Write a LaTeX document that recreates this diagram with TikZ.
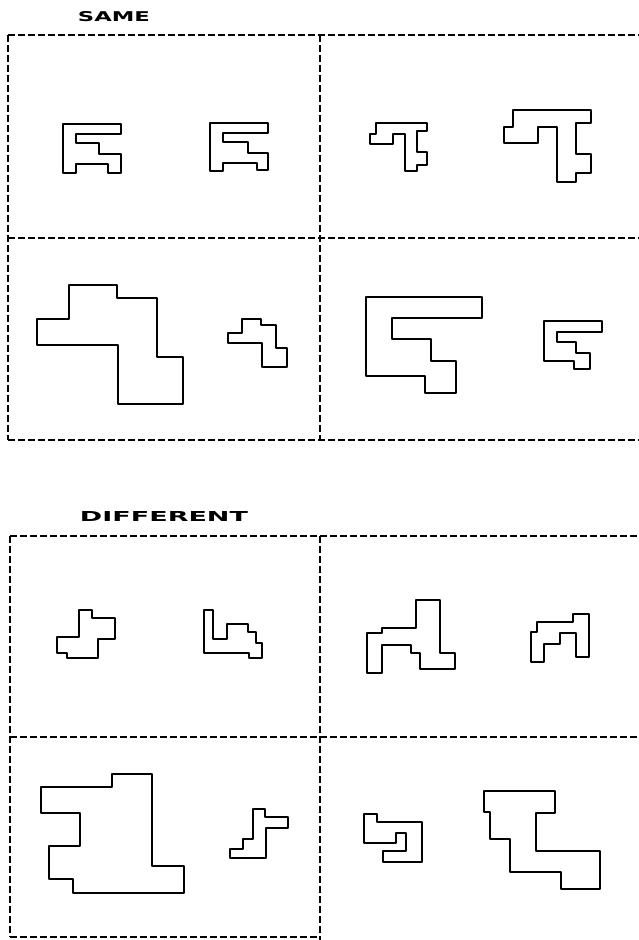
\documentclass[tikz,border=0pt]{standalone}
\usepackage{graphicx}
\usepackage{fontspec}
\newfontfamily\boardfont{DejaVu Sans}
\usepackage{tikz}

\begin{document}
\begin{tikzpicture}[x=1pt, y=-1pt,
    frame/.style={line width=1.1pt, dash pattern=on 7pt off 3pt},
    piece/.style={line width=2.3pt, line join=round},
    title/.style={inner sep=0pt, font=\boardfont\bfseries}]
			\useasboundingbox (0,0) rectangle (638,940);
			% upper board
			\coordinate (S1) at (8,35);
			\coordinate (S2) at (320,35);
			\coordinate (S3) at (8,238);
			\coordinate (S4) at (8,440);
			\node[title] (same) at (114,17) {\resizebox{72pt}{10pt}{SAME}};
			\draw[frame] (S1) -- (645,35);
			\draw[frame] (S3) -- (645,238);
			\draw[frame] (S4) -- (645,440);
			\draw[frame] (S1) -- (S4);
			\draw[frame] (S2) -- (320,440);
			% lower board
			\coordinate (D1) at (10,536);
			\coordinate (D2) at (320,536);
			\coordinate (D3) at (10,737);
			\coordinate (D4) at (10,937);
			\node[title] (diff) at (164,516) {\resizebox{168pt}{10pt}{DIFFERENT}};
			\draw[frame] (D1) -- (645,536);
			\draw[frame] (D3) -- (645,737);
			\draw[frame] (D4) -- (320,937);
			\draw[frame] (D1) -- (D4);
			\draw[frame] (D2) -- (320,945);
			% same, top left
			\draw[piece] (63,124) -- (121,124) -- (121,134) -- (76,134) -- (76,143) -- (99,143) -- (99,154)
			             -- (121,154) -- (121,173) -- (108,173) -- (108,164) -- (76,164) -- (76,173) -- (63,173) -- cycle;
			\draw[piece] (210,123) -- (268,123) -- (268,133) -- (223,133) -- (223,142) -- (248,142) -- (248,153)
			             -- (268,153) -- (268,170) -- (257,170) -- (257,163) -- (223,163) -- (223,171) -- (210,171) -- cycle;
			% same, top right
			\draw[piece] (376,123) -- (427,123) -- (427,131) -- (417,131) -- (417,152) -- (427,152) -- (427,165) -- (417,165)
			             -- (417,171) -- (405,171) -- (405,134) -- (393,134) -- (393,144) -- (370,144) -- (370,134) -- (376,134) -- cycle;
			\draw[piece] (513,110) -- (591,110) -- (591,123) -- (576,123) -- (576,154) -- (591,154) -- (591,173) -- (576,173)
			             -- (576,182) -- (557,182) -- (557,127) -- (538,127) -- (538,143) -- (504,143) -- (504,127) -- (513,127) -- cycle;
			% same, bottom left
			\draw[piece] (69,285) -- (117,285) -- (117,298) -- (157,298) -- (157,357) -- (183,357) -- (183,404)
			             -- (118,404) -- (118,345) -- (37,345) -- (37,319) -- (69,319) -- cycle;
			\draw[piece] (242,319) -- (261,319) -- (261,325) -- (276,325) -- (276,348) -- (287,348) -- (287,367)
			             -- (262,367) -- (262,343) -- (228,343) -- (228,333) -- (242,333) -- cycle;
			% same, bottom right
			\draw[piece] (366,297) -- (482,297) -- (482,318) -- (392,318) -- (392,339) -- (431,339) -- (431,361)
			             -- (456,361) -- (456,393) -- (425,393) -- (425,376) -- (366,376) -- cycle;
			\draw[piece] (544,321) -- (602,321) -- (602,332) -- (557,332) -- (557,342) -- (576,342) -- (576,353)
			             -- (590,353) -- (590,369) -- (574,369) -- (574,361) -- (544,361) -- cycle;
			% different, top left
			\draw[piece] (79,610) -- (92,610) -- (92,618) -- (115,618) -- (115,639) -- (98,639) -- (98,658)
			             -- (67,658) -- (67,653) -- (57,653) -- (57,637) -- (79,637) -- cycle;
			\draw[piece] (204,610) -- (213,610) -- (213,639) -- (227,639) -- (227,624) -- (248,624) -- (248,632)
			             -- (256,632) -- (256,643) -- (262,643) -- (262,658) -- (249,658) -- (249,653) -- (204,653) -- cycle;
			% different, top right
			\draw[piece] (416,600) -- (440,600) -- (440,653) -- (455,653) -- (455,669) -- (420,669) -- (420,653) -- (411,653)
			             -- (411,645) -- (382,645) -- (382,673) -- (367,673) -- (367,633) -- (382,633) -- (382,628) -- (416,628) -- cycle;
			\draw[piece] (573,614) -- (589,614) -- (589,657) -- (576,657) -- (576,633) -- (560,633) -- (560,644)
			             -- (544,644) -- (544,662) -- (531,662) -- (531,632) -- (537,632) -- (537,622) -- (573,622) -- cycle;
			% different, bottom left
			\draw[piece] (112,774) -- (152,774) -- (152,866) -- (184,866) -- (184,893) -- (73,893) -- (73,879)
			             -- (49,879) -- (49,846) -- (80,846) -- (80,813) -- (41,813) -- (41,787) -- (112,787) -- cycle;
			\draw[piece] (253,809) -- (265,809) -- (265,817) -- (288,817) -- (288,828) -- (266,828) -- (266,858)
			             -- (230,858) -- (230,849) -- (243,849) -- (243,839) -- (253,839) -- cycle;
			% different, bottom right
			\draw[piece] (364,814) -- (377,814) -- (377,822) -- (422,822) -- (422,862) -- (383,862) -- (383,851)
			             -- (406,851) -- (406,833) -- (396,833) -- (396,843) -- (364,843) -- cycle;
			\draw[piece] (484,791) -- (555,791) -- (555,813) -- (536,813) -- (536,851) -- (600,851) -- (600,889)
			             -- (561,889) -- (561,872) -- (510,872) -- (510,839) -- (490,839) -- (490,812) -- (484,812) -- cycle;
		\end{tikzpicture}
\end{document}
